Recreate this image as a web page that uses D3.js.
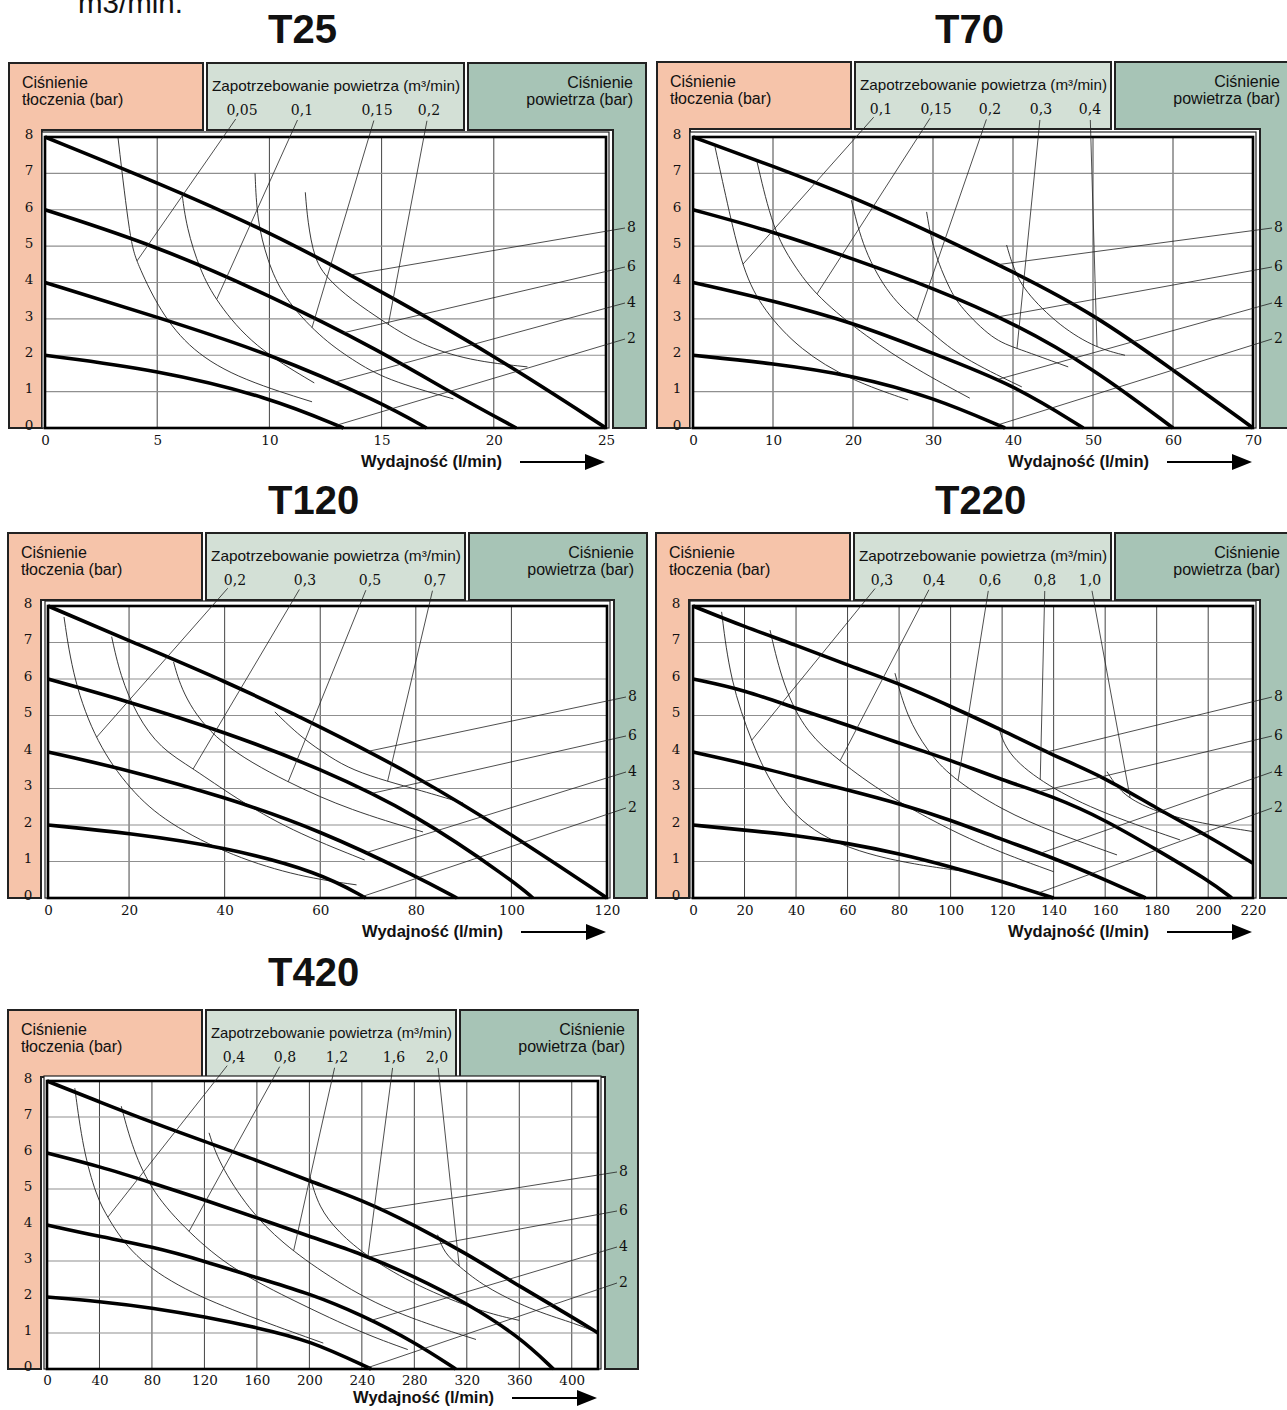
<!DOCTYPE html>
<html>
<head>
<meta charset="utf-8">
<script src="https://cdn.jsdelivr.net/npm/d3@7"></script>
<style>
  body { margin: 0; background: #fff; }
  svg text { font-family: "Liberation Sans", Arial, sans-serif; fill: #111; }
  svg text.num { font-family: "DejaVu Serif", "Liberation Serif", serif; }
</style>
</head>
<body>
<svg id="chart" width="1287" height="1410"></svg>
<script>
// ---------------- data ----------------
var yTicks = [0, 1, 2, 3, 4, 5, 6, 7, 8];
var barLabels = ["8", "6", "4", "2"];

// T25
var t25XDomain = [0, 25];
var t25XTicks = [0, 5, 10, 15, 20, 25];
var t25Bars = [
    [[0, 8], [5, 6.75], [10, 5.4], [15, 3.75], [20, 2.0], [25, 0]],
    [[0, 6], [5, 5.0], [10, 3.65], [15, 2.1], [18, 1.0], [21, 0]],
    [[0, 4], [5, 3.05], [10, 2.05], [15, 0.7], [17, 0]],
    [[0, 2], [5, 1.6], [10, 0.85], [13.3, 0]]
];
var t25BarAnchors = [13.6, 13.3, 12.9, 13.0];
var t25AirLabels = ["0,05", "0,1", "0,15", "0,2"];
var t25Air = [
    [[3.25, 8], [3.8, 5.1], [4.1, 4.55], [5.0, 3.35], [6.3, 2.25], [8.4, 1.4], [11.9, 0.72]],
    [[6.1, 6.48], [6.3, 5.52], [6.9, 4.34], [7.65, 3.46], [9.3, 2.23], [12.0, 1.24]],
    [[9.36, 7.0], [9.45, 5.71], [9.9, 4.62], [10.6, 3.6], [12.25, 2.5], [13.7, 1.87], [15.2, 1.32], [18.2, 0.8]],
    [[11.6, 6.48], [11.7, 5.71], [12.0, 4.62], [12.6, 4.1], [13.6, 3.55], [15.2, 2.88], [16.7, 2.3], [18.9, 1.85], [21.5, 1.68]]
];
var t25AirAnchors = [4.1, 7.65, 11.9, 15.3];

// T70
var t70XDomain = [0, 70];
var t70XTicks = [0, 10, 20, 30, 40, 50, 60, 70];
var t70Bars = [
    [[0, 8], [10, 7.2], [20, 6.35], [30, 5.35], [40, 4.3], [50, 3.15], [60, 1.6], [70, 0]],
    [[0, 6], [10, 5.4], [20, 4.65], [30, 3.85], [40, 2.9], [50, 1.65], [60, 0]],
    [[0, 4], [10, 3.5], [20, 2.9], [30, 2.05], [40, 1.2], [48.8, 0]],
    [[0, 2], [10, 1.78], [20, 1.45], [30, 0.85], [39, 0]]
];
var t70BarAnchors = [38.1, 38.1, 38, 38.1];
var t70AirLabels = ["0,1", "0,15", "0,2", "0,3", "0,4"];
var t70Air = [
    [[2.75, 7.73], [4.2, 6.26], [6.25, 4.3], [8.8, 3.24], [13.4, 2.14], [19.6, 1.32], [26.9, 0.77]],
    [[8.0, 7.32], [10, 5.45], [12.5, 4.5], [15.5, 3.6], [21.7, 2.5], [28, 1.6], [34.6, 0.82]],
    [[19.8, 6.26], [21.3, 4.89], [24.6, 3.6], [28, 2.95], [30, 2.6], [33.4, 1.95], [41.1, 1.13]],
    [[29.2, 5.94], [30, 4.89], [32.1, 3.8], [33.4, 3.33], [37.5, 2.42], [40.5, 2.19], [46.9, 1.68]],
    [[39.2, 5.03], [40, 4.43], [41.3, 3.79], [45.9, 2.78], [50.5, 2.19], [54, 2.0]]
];
var t70AirAnchors = [6.25, 15.5, 28, 40.5, 50.5];

// T120
var t120XDomain = [0, 20, 120];
var t120XTicks = [0, 20, 40, 60, 80, 100, 120];
var t120Bars = [
    [[0, 8], [20, 7.05], [40, 5.95], [60, 4.7], [80, 3.35], [100, 1.75], [120, 0]],
    [[0, 6], [20, 5.38], [40, 4.55], [60, 3.55], [80, 2.3], [100, 0.5], [104.5, 0]],
    [[0, 4], [20, 3.5], [40, 2.77], [60, 1.85], [80, 0.6], [88.6, 0]],
    [[0, 2], [20, 1.78], [40, 1.4], [60, 0.7], [69.5, 0]]
];
var t120BarAnchors = [70.0, 70.7, 69.6, 68.9];
var t120AirLabels = ["0,2", "0,3", "0,5", "0,7"];
var t120Air = [
    [[3.95, 7.7], [6.25, 5.97], [12.0, 4.24], [20.2, 2.96], [27.9, 2.05], [41.8, 1.13], [55.8, 0.58], [67.6, 0.36]],
    [[15.7, 7.16], [17.8, 6.1], [21.6, 5.0], [26.5, 4.1], [33.4, 3.55], [42.1, 2.75], [53.8, 1.85], [69.3, 1.04]],
    [[29.3, 6.47], [31.4, 5.5], [38.3, 4.24], [53.3, 3.15], [66.4, 2.4], [81.5, 1.81]],
    [[50.5, 5.1], [55.8, 4.42], [62.1, 3.85], [66.9, 3.5], [73.9, 3.2], [80.9, 2.95], [89.9, 2.6]]
];
var t120AirAnchors = [12.0, 33.4, 53.3, 74.1];

// T220
var t220XDomain = [0, 200, 220];
var t220XTicks = [0, 20, 40, 60, 80, 100, 120, 140, 160, 180, 200, 220];
var t220Bars = [
    [[0, 8], [20, 7.43], [40, 6.93], [60, 6.38], [80, 5.88], [100, 5.25], [120, 4.6], [140, 3.9], [160, 3.3], [180, 2.45], [200, 1.7], [220, 0.95]],
    [[0, 6], [20, 5.7], [40, 5.19], [60, 4.74], [80, 4.24], [100, 3.78], [120, 3.23], [140, 2.78], [160, 2.14], [180, 1.32], [200, 0.49], [210.5, 0]],
    [[0, 4], [20, 3.69], [40, 3.32], [60, 2.96], [80, 2.59], [100, 2.14], [120, 1.6], [140, 1.1], [160, 0.5], [175.7, 0]],
    [[0, 2], [20, 1.86], [40, 1.72], [60, 1.5], [80, 1.22], [100, 0.86], [120, 0.45], [140, 0]]
];
var t220BarAnchors = [137.4, 134, 134.8, 134];
var t220AirLabels = ["0,3", "0,4", "0,6", "0,8", "1,0"];
var t220Air = [
    [[11.1, 7.84], [14.4, 5.97], [22.8, 4.24], [32.5, 2.78], [48, 1.68], [73.9, 1.04], [106.3, 0.72]],
    [[29.9, 7.34], [35, 5.79], [44.2, 4.5], [57.1, 3.75], [73.9, 2.85], [107.6, 1.55], [140, 0.72]],
    [[78.4, 6.16], [83, 4.97], [90.8, 4.05], [99.8, 3.32], [120, 2.4], [140, 1.8], [164.6, 1.18]],
    [[118.6, 4.69], [121.8, 3.96], [134.8, 3.19], [155.5, 2.41], [189.1, 1.59]],
    [[160.7, 3.46], [164.5, 3.05], [169.7, 2.7], [181.4, 2.32], [196.9, 2.05], [220, 1.82]]
];
var t220AirAnchors = [22.8, 57.1, 102.9, 134.8, 169.7];

// T420
var t420XDomain = [0, 420];
var t420XTicks = [0, 40, 80, 120, 160, 200, 240, 280, 320, 360, 400];
var t420Bars = [
    [[0, 8], [40, 7.42], [80, 6.85], [120, 6.32], [160, 5.8], [200, 5.22], [240, 4.7], [280, 4.0], [320, 3.2], [360, 2.3], [400, 1.45], [420, 1.0]],
    [[0, 6], [40, 5.63], [80, 5.17], [120, 4.7], [160, 4.2], [200, 3.68], [240, 3.2], [280, 2.57], [320, 1.83], [360, 0.9], [386, 0]],
    [[0, 4], [40, 3.68], [80, 3.4], [120, 3.0], [160, 2.53], [200, 2.1], [240, 1.5], [280, 0.75], [311.6, 0]],
    [[0, 2], [40, 1.88], [80, 1.7], [120, 1.45], [160, 1.15], [200, 0.8], [247, 0]]
];
var t420BarAnchors = [254.8, 244.7, 247.2, 244.7];
var t420AirLabels = ["0,4", "0,8", "1,2", "1,6", "2,0"];
var t420Air = [
    [[21.2, 7.8], [27.5, 6.09], [37.6, 4.8], [46.4, 4.19], [65.4, 3.13], [103.3, 2.2], [153.8, 1.46], [210.6, 0.72]],
    [[56.6, 7.3], [65.4, 6.09], [80.5, 4.89], [108.3, 3.78], [141.1, 2.76], [191.7, 1.83], [240, 1.0], [275, 0.54]],
    [[123.5, 6.56], [131, 5.72], [153.8, 4.43], [179, 3.5], [214.4, 2.57], [260, 1.6], [327, 0.82]],
    [[200.5, 5.35], [207, 4.5], [222, 3.8], [244.7, 3.1], [282, 2.3], [330, 1.6], [360, 1.35]],
    [[297.7, 3.73], [302.8, 3.22], [314.2, 2.85], [333.1, 2.29], [368.4, 1.65], [401.3, 1.28], [417, 1.05]]
];
var t420AirAnchors = [46.4, 108.3, 188, 244.7, 314.2];

// ---------------- layout ----------------
var layout = {
    T25:  { L: 9,   T: 63,   pL: 45,  pR: 606,  pT: 137,  pB: 428,  titleX: 268, titleY: 43,  xFrac: [0, 1], airDx: [35, 95, 170, 222], tickDy: 17, axisDy: 34 },
    T70:  { L: 657, T: 62,   pL: 693, pR: 1253, pT: 137,  pB: 428,  titleX: 935, titleY: 43,  xFrac: [0, 1], airDx: [26, 81, 135, 186, 235], tickDy: 17, axisDy: 34 },
    T120: { L: 8,   T: 533,  pL: 48,  pR: 607,  pT: 606,  pB: 898,  titleX: 268, titleY: 514, xFrac: [0, 0.145, 1], airDx: [29, 99, 164, 229], tickDy: 17, axisDy: 34 },
    T220: { L: 656, T: 533,  pL: 693, pR: 1253, pT: 606,  pB: 898,  titleX: 935, titleY: 514, xFrac: [0, 0.92, 1], airDx: [28, 80, 136, 191, 236], tickDy: 17, axisDy: 34 },
    T420: { L: 8,   T: 1010, pL: 47,  pR: 598,  pT: 1081, pB: 1369, titleX: 268, titleY: 986, xFrac: [0, 1], airDx: [28, 79, 131, 188, 231], tickDy: 16, axisDy: 29 }
};
var barLabelDy = [90, 129, 165, 201];

var colors = { pink: "#f6c4aa", light: "#d3e0d6", dark: "#a7c4b6", border: "#222" };

var panels = [
    { name: "T25",  xDomain: t25XDomain,  xTicks: t25XTicks,  bars: t25Bars,  barAnchors: t25BarAnchors,  air: t25Air,  airLabels: t25AirLabels,  airAnchors: t25AirAnchors },
    { name: "T70",  xDomain: t70XDomain,  xTicks: t70XTicks,  bars: t70Bars,  barAnchors: t70BarAnchors,  air: t70Air,  airLabels: t70AirLabels,  airAnchors: t70AirAnchors },
    { name: "T120", xDomain: t120XDomain, xTicks: t120XTicks, bars: t120Bars, barAnchors: t120BarAnchors, air: t120Air, airLabels: t120AirLabels, airAnchors: t120AirAnchors },
    { name: "T220", xDomain: t220XDomain, xTicks: t220XTicks, bars: t220Bars, barAnchors: t220BarAnchors, air: t220Air, airLabels: t220AirLabels, airAnchors: t220AirAnchors },
    { name: "T420", xDomain: t420XDomain, xTicks: t420XTicks, bars: t420Bars, barAnchors: t420BarAnchors, air: t420Air, airLabels: t420AirLabels, airAnchors: t420AirAnchors }
];

var svg = d3.select("#chart");

// end of a sentence cut at the top of the page
svg.append("text")
    .attr("x", 78).attr("y", 13)
    .style("font-size", "29.5px")
    .text("m3/min.");

// point of a drawn curve at a given x (pixels)
function pointAtX(node, px) {
    var lo = 0, hi = node.getTotalLength(), p = node.getPointAtLength(0);
    for (var i = 0; i < 40; i++) {
        var mid = (lo + hi) / 2;
        p = node.getPointAtLength(mid);
        if (p.x < px) lo = mid; else hi = mid;
    }
    return p;
}

panels.forEach(drawPanel);

function drawPanel(p) {
    var lay = layout[p.name];
    var L = lay.L, T = lay.T;
    var g = svg.append("g");

    var x = d3.scaleLinear()
        .domain(p.xDomain)
        .range(lay.xFrac.map(function (f) { return lay.pL + f * (lay.pR - lay.pL); }));
    var y = d3.scaleLinear().domain([0, 8]).range([lay.pB, lay.pT]);

    var line = d3.line()
        .x(function (d) { return x(d[0]); })
        .y(function (d) { return y(d[1]); })
        .curve(d3.curveBasis);

    // title
    g.append("text")
        .attr("x", lay.titleX).attr("y", lay.titleY)
        .style("font-size", "40px").style("font-weight", "bold")
        .text(p.name);

    // pink L-shape (discharge pressure)
    var pinkR = L + 194, stripR = L + 33, boxB = T + 67;
    g.append("path")
        .attr("d", "M" + L + "," + T + "H" + pinkR + "V" + boxB + "H" + stripR + "V" + lay.pB + "H" + L + "Z")
        .attr("fill", colors.pink).attr("stroke", colors.border).attr("stroke-width", 2);

    // light green box (air consumption)
    var lgL = L + 198, lgR = lay.pR - 142;
    g.append("rect")
        .attr("x", lgL).attr("y", T).attr("width", lgR - lgL).attr("height", 67)
        .attr("fill", colors.light).attr("stroke", colors.border).attr("stroke-width", 2);

    // dark green L-shape (air pressure)
    var dgL = lay.pR - 138, dgR = lay.pR + 40, dStripL = lay.pR + 7;
    g.append("path")
        .attr("d", "M" + dgL + "," + T + "H" + dgR + "V" + lay.pB + "H" + dStripL + "V" + boxB + "H" + dgL + "Z")
        .attr("fill", colors.dark).attr("stroke", colors.border).attr("stroke-width", 2);

    // outer thin frame round the plot
    g.append("rect")
        .attr("x", lay.pL - 3).attr("y", lay.pT - 5)
        .attr("width", lay.pR - lay.pL + 6).attr("height", lay.pB - lay.pT + 5)
        .attr("fill", "#fff").attr("stroke", colors.border).attr("stroke-width", 1.2);

    // box texts
    var tl = g.append("text").style("font-size", "16px");
    tl.append("tspan").attr("x", L + 13).attr("y", T + 25).text("Ciśnienie");
    tl.append("tspan").attr("x", L + 13).attr("y", T + 42).text("tłoczenia (bar)");

    var tr = g.append("text").style("font-size", "16px").attr("text-anchor", "end");
    tr.append("tspan").attr("x", lay.pR + 27).attr("y", T + 25).text("Ciśnienie");
    tr.append("tspan").attr("x", lay.pR + 27).attr("y", T + 42).text("powietrza (bar)");

    g.append("text")
        .attr("x", lgL + 5).attr("y", T + 28)
        .style("font-size", "14.5px")
        .attr("textLength", lgR - lgL - 9).attr("lengthAdjust", "spacingAndGlyphs")
        .text("Zapotrzebowanie powietrza (m³/min)");

    // grid
    var grid = g.append("g");
    grid.selectAll("line.v")
        .data(p.xTicks.filter(function (v) { return v > 0 && v < p.xDomain[p.xDomain.length - 1]; }))
        .enter().append("line")
        .attr("class", "v")
        .attr("x1", function (d) { return x(d); }).attr("x2", function (d) { return x(d); })
        .attr("y1", lay.pT).attr("y2", lay.pB)
        .attr("stroke", "#444").attr("stroke-width", 1);
    grid.selectAll("line.h")
        .data(yTicks.filter(function (v) { return v > 0 && v < 8; }))
        .enter().append("line")
        .attr("class", "h")
        .attr("x1", lay.pL).attr("x2", lay.pR)
        .attr("y1", function (d) { return y(d); }).attr("y2", function (d) { return y(d); })
        .attr("stroke", "#8f8f8f").attr("stroke-width", 1.2);

    // air consumption curves (thin)
    var airPaths = g.append("g").selectAll("path")
        .data(p.air)
        .enter().append("path")
        .attr("d", line)
        .attr("fill", "none").attr("stroke", "#222").attr("stroke-width", 0.9);

    // air pressure curves (thick)
    var barPaths = g.append("g").selectAll("path")
        .data(p.bars)
        .enter().append("path")
        .attr("d", line)
        .attr("fill", "none").attr("stroke", "#000").attr("stroke-width", 3.6)
        .attr("stroke-linejoin", "round");

    // plot border
    g.append("rect")
        .attr("x", lay.pL).attr("y", lay.pT)
        .attr("width", lay.pR - lay.pL).attr("height", lay.pB - lay.pT)
        .attr("fill", "none").attr("stroke", "#000").attr("stroke-width", 2.6);

    // axes
    var xAxis = d3.axisBottom(x).tickValues(p.xTicks).tickSize(0).tickPadding(0).tickFormat(d3.format("d"));
    var xg = g.append("g")
        .attr("transform", "translate(0," + (lay.pB + lay.tickDy) + ")")
        .call(xAxis);
    xg.select(".domain").remove();
    xg.selectAll("text").attr("class", "num").attr("dy", 0).attr("y", 0)
        .style("font-size", "13.5px").attr("fill", "#111");

    var yAxis = d3.axisLeft(y).tickValues(yTicks).tickSize(0).tickPadding(0);
    var yg = g.append("g")
        .attr("transform", "translate(" + (L + 20) + ",-3)")
        .call(yAxis);
    yg.select(".domain").remove();
    yg.selectAll("text").attr("class", "num").attr("text-anchor", "middle")
        .style("font-size", "13.5px").attr("fill", "#111");

    // x axis title with arrow
    var ay = lay.pB + lay.axisDy;
    g.append("text")
        .attr("x", lay.pR - 104).attr("y", ay + 5)
        .attr("text-anchor", "end")
        .style("font-size", "16.5px").style("font-weight", "bold")
        .text("Wydajność (l/min)");
    g.append("line")
        .attr("x1", lay.pR - 86).attr("x2", lay.pR - 19)
        .attr("y1", ay).attr("y2", ay)
        .attr("stroke", "#000").attr("stroke-width", 2);
    g.append("path")
        .attr("d", "M" + (lay.pR - 21) + "," + (ay - 8) + "L" + (lay.pR - 1) + "," + ay + "L" + (lay.pR - 21) + "," + (ay + 8) + "Z")
        .attr("fill", "#000");

    // air consumption labels and leaders
    var labY = T + 52;
    p.airLabels.forEach(function (lab, i) {
        var lx = lgL + lay.airDx[i];
        g.append("text").attr("class", "num")
            .attr("x", lx).attr("y", labY)
            .attr("text-anchor", "middle")
            .style("font-size", "14px")
            .text(lab);
        var a = pointAtX(airPaths.nodes()[i], x(p.airAnchors[i]));
        var cx = lx, cy = labY - 5;
        var dx = a.x - cx, dy = a.y - cy, len = Math.sqrt(dx * dx + dy * dy);
        g.append("line")
            .attr("x1", cx + dx / len * 11).attr("y1", cy + dy / len * 11)
            .attr("x2", a.x).attr("y2", a.y)
            .attr("stroke", "#222").attr("stroke-width", 0.8);
    });

    // air pressure labels and leaders
    barLabels.forEach(function (lab, i) {
        var ly = lay.pT + barLabelDy[i];
        g.append("text").attr("class", "num")
            .attr("x", lay.pR + 21).attr("y", ly + 5)
            .style("font-size", "14px")
            .text(lab);
        var a = pointAtX(barPaths.nodes()[i], x(p.barAnchors[i]));
        g.append("line")
            .attr("x1", lay.pR + 19).attr("y1", ly + 1)
            .attr("x2", a.x).attr("y2", a.y)
            .attr("stroke", "#222").attr("stroke-width", 0.8);
    });
}
</script>
</body>
</html>
